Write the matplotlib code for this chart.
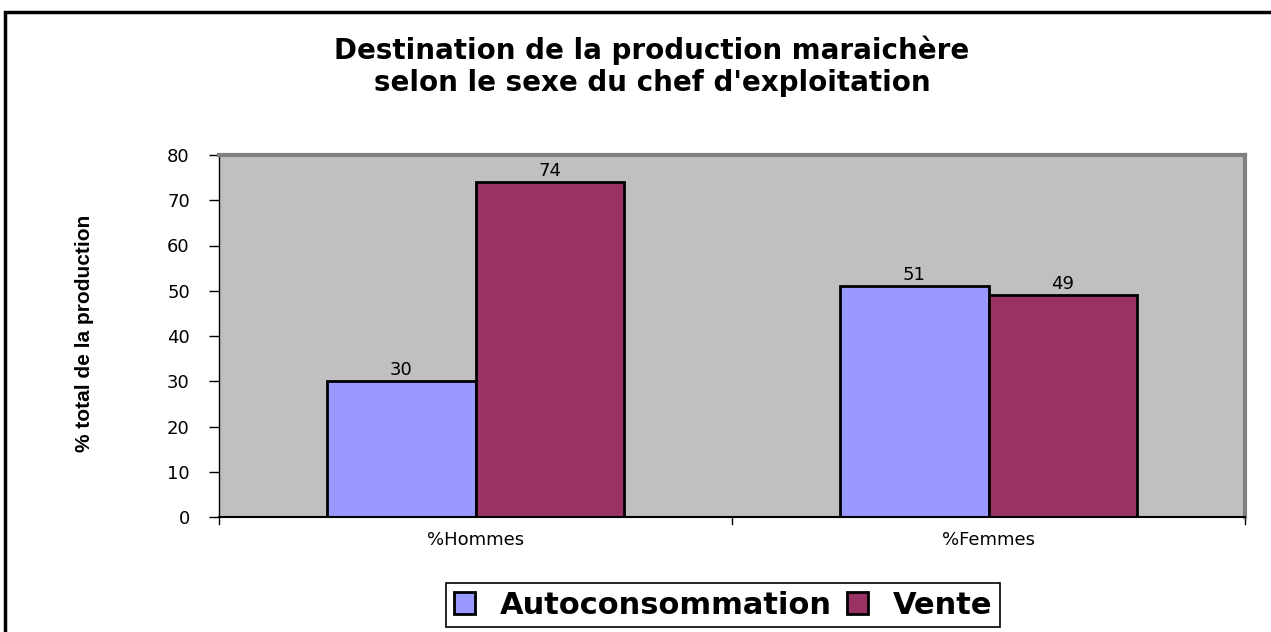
import matplotlib.pyplot as plt
import numpy as np
from matplotlib.patches import Rectangle

categories = ["%Hommes", "%Femmes"]
autoconsommation = [30, 51]
vente = [74, 49]
series_names = ["Autoconsommation", "Vente"]
yticks = [0, 10, 20, 30, 40, 50, 60, 70, 80]

plt.rcParams['font.family'] = ['DejaVu Sans']

fig = plt.figure(figsize=(12.71, 6.32), dpi=100)
ax = fig.add_axes([219/1271, 1 - 517/632, 1026/1271, 362/632])

# cadre extérieur
fig.patches.append(Rectangle((5/1271, -0.02), 1.05, 1 - 12/632 + 0.02, transform=fig.transFigure,
                             fill=False, edgecolor='black', linewidth=2.5))

x = np.arange(len(categories))
w = 0.289
b1 = ax.bar(x - w/2, autoconsommation, w, color='#9999FF', edgecolor='black', linewidth=2, label=series_names[0])
b2 = ax.bar(x + w/2, vente, w, color='#993366', edgecolor='black', linewidth=2, label=series_names[1])

# valeurs au-dessus des barres
for bars in (b1, b2):
    for r in bars:
        ax.text(r.get_x() + r.get_width()/2, r.get_height() + 0.4, str(int(r.get_height())),
                ha='center', va='bottom', fontsize=13)

ax.set_xlim(-0.5, 1.5)
ax.set_ylim(0, 80)
ax.set_yticks(yticks)
ax.set_yticklabels([str(t) for t in yticks], fontsize=13)
ax.set_xticks(x)
ax.set_xticklabels(categories, fontsize=13)
ax.tick_params(axis='x', length=0, pad=10)
ax.tick_params(axis='y', length=7, width=1, pad=14)
for xb in [-0.5, 0.5, 1.5]:
    ax.plot([xb, xb], [0, -1.5], color='black', lw=1, clip_on=False)

ax.set_facecolor('#C0C0C0')
ax.spines['top'].set_color('#808080')
ax.spines['right'].set_color('#808080')
ax.spines['top'].set_linewidth(3)
ax.spines['right'].set_linewidth(3)
ax.spines['left'].set_linewidth(1)
ax.spines['bottom'].set_linewidth(1.5)

fig.text(85/1271, 1 - 333/632, "% total de la production", rotation=90, ha='center', va='center',
         fontsize=15, fontweight='bold', family='Liberation Sans')

fig.text(652/1271, 1 - 50/632, "Destination de la production maraichère", ha='center', va='center',
         fontsize=20, fontweight='bold')
fig.text(652/1271, 1 - 83/632, "selon le sexe du chef d'exploitation", ha='center', va='center',
         fontsize=20, fontweight='bold')

leg = fig.legend(handles=[b1, b2], loc='center', bbox_to_anchor=(723/1271, 1 - 605/632), ncol=2,
                 prop={'size': 22, 'weight': 'bold'}, frameon=True, fancybox=False, framealpha=1,
                 edgecolor='black', handlelength=0.7, handleheight=0.7, columnspacing=0.5,
                 handletextpad=0.8, borderpad=0.25, borderaxespad=0)
leg.get_frame().set_linewidth(1.2)

fig.savefig("out.png", dpi=100)
